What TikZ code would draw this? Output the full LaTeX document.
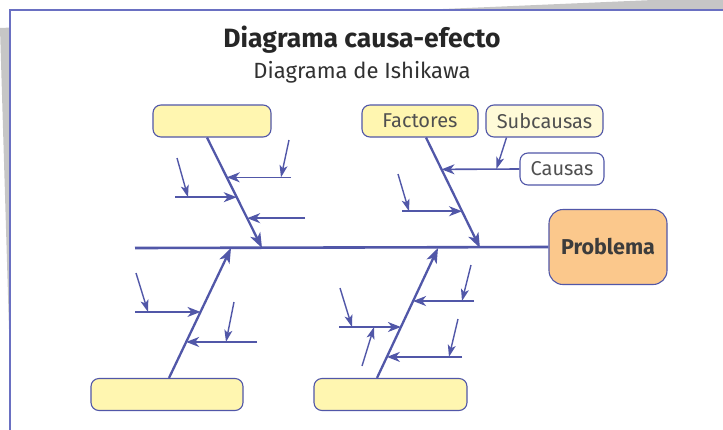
\documentclass[tikz,border=0pt]{standalone}
\usepackage{fontspec}
\setmainfont{Fira Sans}
\usetikzlibrary{arrows.meta,calc}
\definecolor{fishblue}{HTML}{5157A8}
\definecolor{framecol}{HTML}{6A70C2}
\definecolor{boxyellow}{HTML}{FFF6B0}
\definecolor{paleyellow}{HTML}{FFFAD8}
\definecolor{probfill}{HTML}{FBC88C}
\definecolor{txtgray}{HTML}{505050}
\definecolor{titlegray}{HTML}{262626}
\definecolor{pagegray}{HTML}{C6C6C6}

\begin{document}
\begin{tikzpicture}[x=1pt,y=-1pt,
	spineline/.style={draw=fishblue,line width=2.6pt},
	bone/.style={draw=fishblue,line width=2.3pt,-{Stealth[length=15pt,width=11pt,inset=4pt]}},
	cause/.style={draw=fishblue,line width=1.6pt,-{Stealth[length=13pt,width=10pt,inset=4pt]}},
	subcause/.style={draw=fishblue,line width=1.4pt,-{Stealth[length=12pt,width=8pt,inset=3pt]}},
	box/.style={draw=fishblue,line width=1.1pt,rounded corners=8pt,fill=boxyellow,minimum height=32pt,inner sep=0pt,text=txtgray,font=\fontsize{20}{22}\selectfont},
	probbox/.style={box,fill=probfill,rounded corners=14pt,minimum width=118pt,minimum height=75pt,text=titlegray!90,font=\fontsize{21.5}{24}\selectfont\bfseries}]
	\clip (0,0) rectangle (723,429);
	\fill[pagegray] (0,28) -- (723,-3) -- (723,429) -- (12,429) -- cycle;
	\fill[white] (10,10) rectangle (724,430);
	\draw[framecol,line width=1.5pt] (10,430) -- (10,10) -- (724,10);

	\node[text=titlegray,font=\fontsize{26.5}{30}\selectfont\bfseries] (title) at (362,40) {Diagrama causa-efecto};
	\node[text=titlegray!95,font=\fontsize{22}{26}\selectfont] (subtitle) at (362,72) {Diagrama de Ishikawa};

	\node[probbox] (prob) at (608,247) {Problema};
	\node[box,minimum width=118pt] (f1) at (212,121) {};
	\node[box,minimum width=116pt] (f2) at (420,121) {Factores};
	\node[box,fill=paleyellow,minimum width=117pt] (subc) at (544.5,121) {Subcausas};
	\node[box,fill=white,minimum width=84pt] (causas) at (562,169) {Causas};
	\node[box,minimum width=152pt] (f3) at (167,394.5) {};
	\node[box,minimum width=153pt] (f4) at (390.5,394.5) {};

	\coordinate (tail) at (135,248);
	\coordinate (s1) at ([xshift=-5pt]f1.south);
	\coordinate (s2) at ([xshift=6pt]f2.south);
	\coordinate (s3) at ([xshift=2pt]f3.north);
	\coordinate (s4) at ([xshift=-13.5pt]f4.north);
	\coordinate (e1) at (262,248);
	\coordinate (e2) at (480,248);
	\coordinate (e3) at (231,248);
	\coordinate (e4) at (438,248);

	\draw[spineline] (tail) -- (prob.west);
	\foreach \bn in {1,...,4}
		\draw[bone] (s\bn) -- (e\bn);

	\foreach \bn/\pos/\fx [count=\i] in {1/0.36/291,1/0.54/175,1/0.73/305,2/0.667/402,3/0.508/135,3/0.277/257,4/0.392/339,4/0.592/474,4/0.162/462}{
		\coordinate (a\i) at ($(s\bn)!\pos!(e\bn)$);
		\coordinate (h\i) at (a\i -| \fx,0);
		\draw[cause] (h\i) -- (a\i);
	}
	\draw[cause] (causas.west) -- ($(s2)!0.288!(e2)$);
	\draw[subcause] ([xshift=-38pt]subc.south) -- ([xshift=-23pt]causas.west);

	\foreach \i/\sx/\sy/\tx [count=\k] in {1/289/140/281,2/177/158/188,4/398/174/409,5/136/273/148,6/234/302/226,7/340/288/352,7/362/366/374,8/471/265/462,9/458/319/449}{
		\coordinate (m\k) at (\sx,\sy);
		\draw[subcause] (m\k) -- (h\i -| \tx,0);
	}
\end{tikzpicture}
\end{document}
